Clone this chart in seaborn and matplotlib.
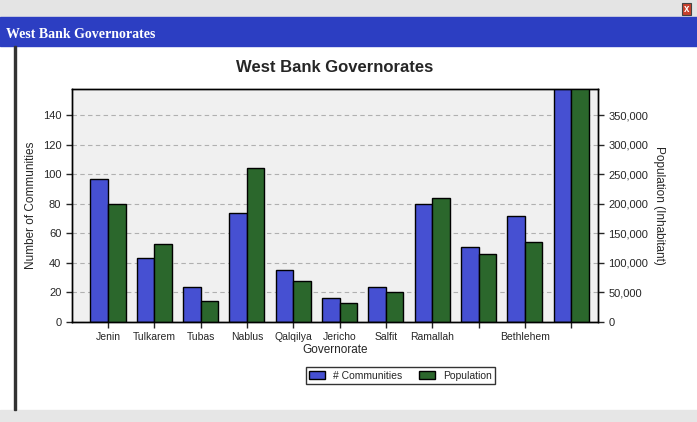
import numpy as np
import pandas as pd
import seaborn as sns
import matplotlib.pyplot as plt
from matplotlib.patches import Rectangle, Patch
from matplotlib.ticker import FuncFormatter, MultipleLocator

# --- DATA ---
governorates = ["Jenin", "Tulkarem", "Tubas", "Nablus", "Qalqilya", "Jericho",
                "Salfit", "Ramallah", "Jerusalem", "Bethlehem", "Hebron"]
tick_labels = ["Jenin", "Tulkarem", "Tubas", "Nablus", "Qalqilya", "Jericho",
               "Salfit", "Ramallah", "", "Bethlehem", ""]
communities = [97, 43, 24, 74, 35, 16, 24, 80, 51, 72, 170]
population = [200000, 132500, 35000, 260000, 70000, 32500, 50000,
              210000, 115000, 135000, 430000]
series = ["# Communities", "Population"]
colors = ["#4650d2", "#2b672c"]

# long table: each series only carries values on its own axis
rows = []
for g, c, p in zip(governorates, communities, population):
    rows.append({"gov": g, "series": series[0], "communities": c, "population": np.nan})
    rows.append({"gov": g, "series": series[1], "communities": np.nan, "population": p})
df = pd.DataFrame(rows)

sns.set_theme(style="white")
plt.rcParams["font.family"] = ["Liberation Sans", "DejaVu Sans"]

fig = plt.figure(figsize=(6.97, 4.22), dpi=100)
fig.patch.set_facecolor("white")

# window chrome
fig.patches.append(Rectangle((0, 1 - 17 / 422), 1, 17 / 422, transform=fig.transFigure,
                             color="#e4e4e4", zorder=0))
fig.patches.append(Rectangle((0, 1 - 46 / 422), 1, 29 / 422, transform=fig.transFigure,
                             color="#2c3ec2", zorder=0))
fig.patches.append(Rectangle((0, 0), 1, 12 / 422, transform=fig.transFigure,
                             color="#e6e6e6", zorder=0))
fig.patches.append(Rectangle((0.02, 12 / 422), 0.0025, 1 - 58 / 422, transform=fig.transFigure,
                             color="#333333", zorder=0))
fig.text(0.008, 1 - 35 / 422, "West Bank Governorates", color="white", fontsize=10,
         fontweight="bold", family="Liberation Serif", va="center")
fig.text(0.985, 1 - 9 / 422, "x", color="white", fontsize=7, fontweight="bold", ha="center",
         va="center", bbox=dict(boxstyle="square,pad=0.15", fc="#c8402c", ec="#444444", lw=0.8))

ax = fig.add_axes([0.103, 0.237, 0.755, 0.553])
ax2 = ax.twinx()

pal = dict(zip(series, colors))
common = dict(x="gov", hue="series", hue_order=series, order=governorates, palette=pal,
              width=0.76, edgecolor="black", linewidth=1, saturation=1,
              errorbar=None, legend=False)
sns.barplot(data=df, y="communities", ax=ax, **common)
sns.barplot(data=df, y="population", ax=ax2, **common)

ax.set_facecolor("#f0f0f0")
ax.set_xlim(-0.78, 10.58)
ax.set_ylim(0, 158)
ax2.set_ylim(0, 395000)
ax.yaxis.set_major_locator(MultipleLocator(20))
ax2.yaxis.set_major_locator(MultipleLocator(50000))
ax2.yaxis.set_major_formatter(FuncFormatter(lambda v, p: f"{int(v):,}"))
ax.set_axisbelow(True)
ax.grid(axis="y", color="#b0b0b0", linestyle=(0, (4, 3)), linewidth=0.8)

ax.set_xticks(range(len(governorates)))
ax.set_xticklabels(tick_labels, fontsize=7.5)
ax.tick_params(axis="y", labelsize=8, length=4, width=1, direction="out", left=True)
ax.tick_params(axis="x", length=4, width=1, direction="out", bottom=True)
ax2.tick_params(axis="y", labelsize=8, length=4, width=1, direction="out", right=True)

ax.set_xlabel("Governorate", fontsize=8.5, labelpad=1)
ax.set_ylabel("Number of Communities", fontsize=8.5)
ax2.set_ylabel("Population (Inhabitant)", fontsize=8.5, rotation=-90, labelpad=12)
ax.set_title("West Bank Governorates", fontsize=12, fontweight="bold", pad=12)

for a in (ax, ax2):
    for s in a.spines.values():
        s.set_color("black")
        s.set_linewidth(1)

handles = [Patch(facecolor=c, edgecolor="black", label=s) for s, c in zip(series, colors)]
fig.legend(handles=handles, loc="center", bbox_to_anchor=(0.575, 0.11), ncol=2,
           fontsize=7.5, frameon=True, fancybox=False, edgecolor="black",
           handlelength=1.5, handleheight=0.9, columnspacing=1.6, borderpad=0.3)

fig.savefig("out.png", dpi=100)
